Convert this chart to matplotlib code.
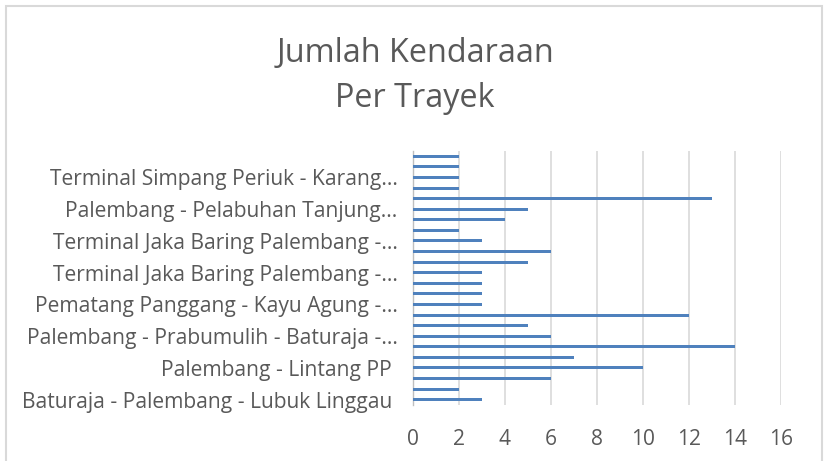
import matplotlib
matplotlib.use("Agg")
import matplotlib.pyplot as plt
from matplotlib.patches import Rectangle
import numpy as np

plt.rcParams['font.family'] = ['Open Sans', 'DejaVu Sans']

# values, bottom category first
values = [3, 2, 6, 10, 7, 14, 6, 5, 12, 3, 3, 3, 3, 5, 6, 3, 2, 4, 5, 13, 2, 2, 2, 2]
# visible category labels (every third category, from bottom)
tick_labels = [
    "Baturaja - Palembang - Lubuk Linggau ",
    "Palembang - Lintang PP ",
    "Palembang - Prabumulih - Baturaja -...",
    "Pematang Panggang - Kayu Agung -...",
    "Terminal Jaka Baring Palembang -...",
    "Terminal Jaka Baring Palembang -...",
    "Palembang - Pelabuhan Tanjung...",
    "Terminal Simpang Periuk - Karang...",
]
x_ticks = [0, 2, 4, 6, 8, 10, 12, 14, 16]
title_lines = ["Jumlah Kendaraan", "Per Trayek"]

W, H = 827, 461
fig = plt.figure(figsize=(W / 100, H / 100), dpi=100)
fig.patch.set_facecolor("white")

# chart border
fig.add_artist(Rectangle((5.5 / W, -0.05), (822 - 5.5) / W, 1.05 - 6.5 / H,
                         transform=fig.transFigure, fill=False,
                         edgecolor="#D9D9D9", linewidth=1.5))

ax = fig.add_axes([412.7 / W, 1 - 405 / H, (780.7 - 412.7) / W, (405 - 151) / H])
y = np.arange(len(values))
ax.barh(y, values, height=0.286, color="#4F81BD", zorder=3)
ax.set_xlim(0, 16)
ax.set_ylim(-0.5, len(values) - 0.5)
ax.set_xticks(x_ticks)
ax.set_xticklabels([str(t) for t in x_ticks])
ax.set_yticks(y[::3])
ax.set_yticklabels(tick_labels)
ax.grid(axis="x", color="#D9D9D9", linewidth=1.2, zorder=0)
for s in ["top", "right", "bottom"]:
    ax.spines[s].set_visible(False)
ax.spines["left"].set_color("#BFBFBF")
ax.spines["left"].set_linewidth(1.0)
ax.tick_params(axis="both", length=0, colors="#595959", labelsize=15.1)
ax.tick_params(axis="x", pad=17)
ax.tick_params(axis="y", pad=11)

for line, base in zip(title_lines, [62, 107]):
    fig.text(415 / W, 1 - base / H, line, ha="center", va="baseline",
             fontsize=23.3, color="#595959")

fig.savefig("out.png", dpi=100, facecolor="white")
